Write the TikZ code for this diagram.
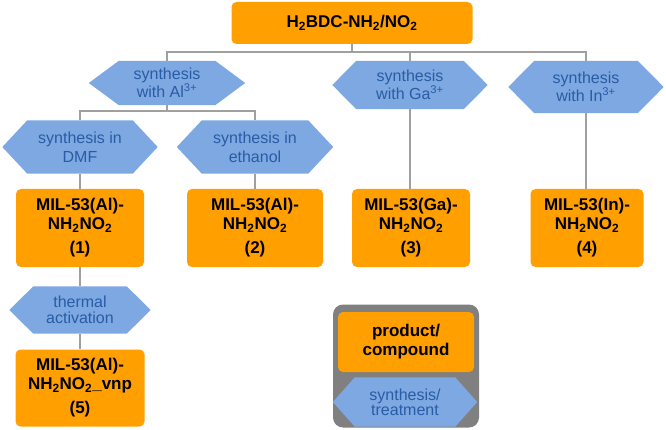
\documentclass[tikz,border=0pt]{standalone}
\usepackage{fontspec}
\setmainfont{Liberation Sans}
\usetikzlibrary{backgrounds}
\pgfdeclarelayer{bottom}
\pgfsetlayers{bottom,background,main}
\definecolor{orng}{RGB}{255,159,0}
\definecolor{hexblue}{RGB}{126,168,226}
\definecolor{hextxt}{RGB}{40,92,165}
\definecolor{conn}{RGB}{160,160,160}
\definecolor{legendgray}{RGB}{128,128,128}
\tikzset{
  prodbox/.style={fill=orng, rounded corners=5pt, inner sep=0pt, align=center,
    font=\fontsize{17}{19}\selectfont\bfseries},
  hextext/.style={inner sep=0pt, align=center, text=hextxt},
  hexfill/.style={fill=hexblue},
  connector/.style={draw=conn, line width=1.1pt},
}
% name, x, y, width, height, slant, baselineskip, text
\newcommand\hexa[8]{%
  \node[hextext, minimum width=#4pt, minimum height=#5pt,
        font=\fontsize{16}{#7}\selectfont] (#1) at (#2,#3) {#8};
  \begin{pgfonlayer}{background}
  \fill[hexfill] (#1.west) -- ([xshift=#6pt]#1.north west) -- ([xshift=-#6pt]#1.north east)
     -- (#1.east) -- ([xshift=-#6pt]#1.south east) -- ([xshift=#6pt]#1.south west) -- cycle;
  \end{pgfonlayer}}
\begin{document}
\begin{tikzpicture}[x=1pt,y=-1pt]
\useasboundingbox (0,0) rectangle (666,430);

% top
\node[prodbox, minimum width=241pt, minimum height=42pt] (top) at (352,23)
  {H\textsubscript{2}BDC-NH\textsubscript{2}/NO\textsubscript{2}};

% first level hexagons
\hexa{al}{167}{83}{156}{44}{30}{16.5}{synthesis\\with Al\textsuperscript{3+}}
\hexa{ga}{410}{85}{155}{48}{24}{16}{synthesis\\with Ga\textsuperscript{3+}}
\hexa{in}{586}{87}{155}{52}{26}{17}{synthesis\\with In\textsuperscript{3+}}

% second level hexagons
\hexa{dmf}{80}{147}{155}{53}{25}{19}{synthesis in\\DMF}
\hexa{eth}{255}{147}{156}{53}{25}{19}{synthesis in\\ethanol}

% products
\node[prodbox, minimum width=128pt, minimum height=78pt] (p1) at (80,228)
  {MIL-53(Al)-\\NH\textsubscript{2}NO\textsubscript{2}\\[5pt](1)};
\node[prodbox, minimum width=136pt, minimum height=78pt] (p2) at (255,228)
  {MIL-53(Al)-\\NH\textsubscript{2}NO\textsubscript{2}\\[5pt](2)};
\node[prodbox, minimum width=118pt, minimum height=78pt] (p3) at (411,228)
  {MIL-53(Ga)-\\NH\textsubscript{2}NO\textsubscript{2}\\[5pt](3)};
\node[prodbox, minimum width=113pt, minimum height=78pt] (p4) at (587,228)
  {MIL-53(In)-\\NH\textsubscript{2}NO\textsubscript{2}\\[5pt](4)};

% thermal activation
\hexa{therm}{80}{310}{141}{47}{24}{16}{thermal\\activation}
\node[prodbox, minimum width=129pt, minimum height=77pt] (p5) at (80,388)
  {MIL-53(Al)-\\NH\textsubscript{2}NO\textsubscript{2}\_vnp\\[5pt](5)};

% legend
\begin{pgfonlayer}{bottom}
\node[fill=legendgray, rounded corners=10pt, minimum width=146pt, minimum height=123pt,
      inner sep=0pt] (leg) at (406,366) {};
\end{pgfonlayer}
\node[prodbox, minimum width=136pt, minimum height=60pt] (legp) at (406,342)
  {product/\\compound};
\hexa{legh}{405}{402}{144}{49}{22}{15}{synthesis/\\treatment}

% connectors
\coordinate (bus1) at (top.south |- 0,52);
\draw[connector] (top.south) -- (bus1);
\draw[connector] (al.north) |- (bus1) -| (in.north);
\draw[connector] (ga.north) -- (ga.north |- bus1);
\coordinate (bus2) at (al.south |- 0,111);
\draw[connector] (al.south) -- (bus2);
\draw[connector] (dmf.north) |- (bus2) -| (eth.north);
\draw[connector] (dmf.south) -- (p1.north);
\draw[connector] (eth.south) -- (p2.north);
\draw[connector] (ga.south) -- (ga.south |- p3.north);
\draw[connector] (in.south) -- (in.south |- p4.north);
\draw[connector] (p1.south) -- (therm.north);
\draw[connector] (therm.south) -- (p5.north);
\end{tikzpicture}
\end{document}
